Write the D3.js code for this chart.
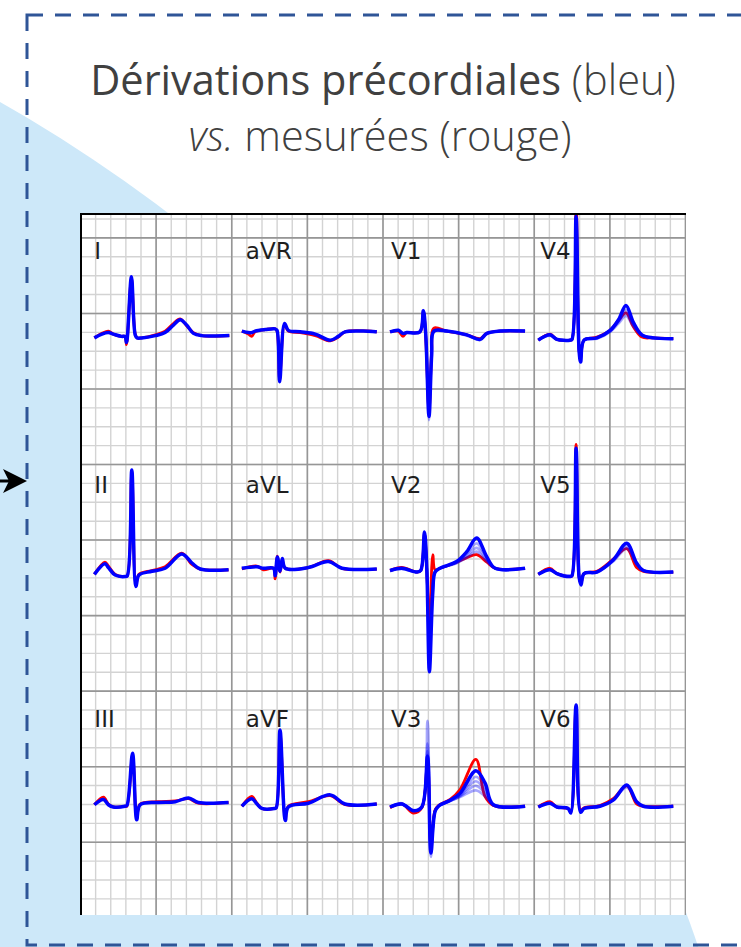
<!DOCTYPE html>
<html>
<head>
<meta charset="utf-8">
<script src="https://cdn.jsdelivr.net/npm/d3@7"></script>
<style>
  body { margin: 0; background: #fff; }
  svg { display: block; }
</style>
</head>
<body>
<script>
// lead layout: rows of the grid and columns
const leadNames = [["I", "aVR", "V1", "V4"], ["II", "aVL", "V2", "V5"], ["III", "aVF", "V3", "V6"]];
const colStart = [38, 428, 820, 1212];     // ms, start of each trace
const rowBase = [-0.3, -3.4, -6.5];        // mV, baseline offset of each row

// time knots (ms from trace start), measured (red) and reconstructed (blue) values in mV
const t_I = [0, 20, 37, 50, 72, 81, 85, 98, 108, 113, 125, 161, 187, 209, 227, 244, 262, 284, 357];
const red_I = [-0.03, 0.03, 0.06, 0.02, -0.01, -0.01, -0.12, 0.76, 0.02, -0.03, -0.03, 0.01, 0.06, 0.16, 0.22, 0.13, 0.04, 0, 0];
const blue_I = [[-0.03, 0.02, 0.04, 0.02, -0.01, -0.01, -0.09, 0.78, 0.01, -0.03, -0.03, 0, 0.04, 0.14, 0.21, 0.14, 0.03, 0, 0]];

const t_aVR = [0, 17, 26, 35, 62, 88, 93, 100, 113, 123, 154, 194, 234, 255, 273, 357];
const red_aVR = [0.06, 0.02, -0.01, 0.05, 0.08, 0.09, 0.06, -0.58, 0.15, 0.06, 0.04, 0.0, -0.07, -0.02, 0.05, 0.05];
const blue_aVR = [[0.06, 0.04, 0.04, 0.06, 0.08, 0.09, 0.07, -0.61, 0.16, 0.07, 0.05, 0.02, -0.06, -0.01, 0.05, 0.05]];

const t_V1 = [0, 22, 34, 44, 79, 88, 94, 103, 110, 116, 150, 203, 238, 256, 291, 357];
const red_V1 = [0.05, 0.06, -0.01, 0.04, 0.05, 0.32, 0.0, -1.0, -0.2, 0.10, 0.06, 0.01, -0.04, 0.03, 0.06, 0.06];
const blue_V1 = [
  [0.05, 0.07, 0.03, 0.04, 0.05, 0.33, 0.05, -1.07, -0.26, 0.06, 0.06, 0.01, -0.05, 0.03, 0.06, 0.06],
  [0.05, 0.06, 0.03, 0.04, 0.05, 0.31, 0.04, -0.95, -0.22, 0.05, 0.06, 0.01, -0.06, 0.02, 0.06, 0.06],
  [0.05, 0.07, 0.03, 0.04, 0.05, 0.34, 0.05, -1.12, -0.28, 0.06, 0.06, 0.0, -0.05, 0.03, 0.06, 0.06]
];

const t_V4 = [0, 31, 49, 84, 89, 100, 108, 112, 121, 155, 190, 212, 232, 251, 274, 304, 357];
const red_V4 = [-0.06, 0.02, -0.05, -0.06, -0.05, 1.8, -0.2, -0.3, -0.06, -0.02, 0.07, 0.2, 0.30, 0.12, -0.02, -0.03, -0.04];
const blue_V4 = [
  [-0.06, 0.01, -0.05, -0.06, -0.05, 1.58, -0.21, -0.35, -0.06, -0.03, 0.07, 0.21, 0.40, 0.18, 0.01, -0.03, -0.04],
  [-0.06, 0.01, -0.05, -0.06, -0.05, 1.55, -0.2, -0.33, -0.06, -0.03, 0.06, 0.19, 0.34, 0.16, 0.01, -0.03, -0.04],
  [-0.05, 0.01, -0.04, -0.06, -0.05, 1.52, -0.2, -0.32, -0.05, -0.03, 0.06, 0.18, 0.30, 0.14, 0.01, -0.03, -0.04],
  [-0.06, 0.0, -0.05, -0.06, -0.05, 1.50, -0.22, -0.34, -0.06, -0.04, 0.05, 0.16, 0.26, 0.12, 0.0, -0.03, -0.04]
];

const t_II = [0, 28, 37, 55, 81, 87, 99, 110, 118, 152, 187, 231, 258, 280, 355];
const red_II = [-0.06, 0.10, 0.05, -0.06, -0.09, -0.08, 1.30, -0.20, -0.06, -0.01, 0.04, 0.22, 0.07, 0.01, 0];
const blue_II = [[-0.06, 0.08, 0.03, -0.07, -0.09, -0.08, 1.32, -0.22, -0.07, -0.02, 0.02, 0.21, 0.09, 0.01, 0]];

const t_aVL = [0, 40, 57, 84, 88, 94, 101, 107, 115, 176, 229, 265, 357];
const red_aVL = [0.01, 0.05, 0.0, 0.02, -0.12, 0.18, -0.03, 0.12, 0.02, 0.03, 0.12, 0.02, 0.01];
const blue_aVL = [[0.02, 0.04, 0.02, 0.02, -0.08, 0.17, -0.02, 0.15, 0.02, 0.03, 0.11, 0.02, 0.01]];

const t_V2 = [0, 31, 71, 81, 91, 97, 104, 113, 119, 132, 176, 203, 229, 256, 278, 357];
const red_V2 = [-0.01, 0.03, -0.03, -0.01, 0.48, 0.0, -0.75, 0.20, 0.0, 0.02, 0.10, 0.16, 0.20, 0.10, 0.02, 0.02];
const blue_V2 = [
  [-0.01, 0.02, -0.03, -0.01, 0.50, 0.04, -1.35, -0.3, -0.03, 0.02, 0.11, 0.24, 0.42, 0.17, 0.02, 0.02],
  [-0.01, 0.02, -0.03, -0.01, 0.48, 0.03, -1.2, -0.25, -0.03, 0.02, 0.10, 0.21, 0.35, 0.15, 0.02, 0.02],
  [-0.02, 0.02, -0.03, -0.01, 0.46, 0.03, -1.05, -0.22, -0.03, 0.02, 0.09, 0.18, 0.29, 0.13, 0.02, 0.02],
  [-0.01, 0.01, -0.03, -0.01, 0.45, 0.02, -0.95, -0.2, -0.02, 0.02, 0.09, 0.16, 0.24, 0.11, 0.02, 0.02]
];

const t_V5 = [0, 31, 49, 84, 89, 100, 108, 113, 121, 155, 198, 234, 260, 278, 357];
const red_V5 = [-0.06, 0.02, -0.05, -0.09, -0.08, 1.66, -0.1, -0.18, -0.05, -0.02, 0.14, 0.28, 0.03, -0.02, -0.03];
const blue_V5 = [
  [-0.06, 0.0, -0.05, -0.09, -0.08, 1.61, -0.1, -0.20, -0.05, -0.03, 0.13, 0.35, 0.09, -0.01, -0.03],
  [-0.06, 0.0, -0.05, -0.09, -0.08, 1.58, -0.1, -0.19, -0.05, -0.03, 0.12, 0.31, 0.08, -0.01, -0.03],
  [-0.05, 0.0, -0.05, -0.08, -0.08, 1.55, -0.1, -0.19, -0.05, -0.03, 0.11, 0.28, 0.07, -0.01, -0.03]
];

const t_III = [0, 24, 37, 50, 81, 86, 101, 112, 121, 169, 214, 249, 275, 355];
const red_III = [-0.01, 0.09, 0.0, -0.04, -0.03, -0.03, 0.64, -0.19, 0.0, 0.03, 0.04, 0.07, 0.01, 0.02];
const blue_III = [[-0.01, 0.06, -0.01, -0.04, -0.03, -0.02, 0.67, -0.21, -0.01, 0.02, 0.03, 0.08, 0.02, 0.02]];

const t_aVF = [0, 26, 40, 53, 86, 91, 101, 115, 123, 176, 234, 273, 357];
const red_aVF = [-0.03, 0.10, 0.01, -0.06, -0.06, -0.05, 0.95, -0.20, -0.03, 0.03, 0.11, -0.01, 0.0];
const blue_aVF = [[-0.03, 0.07, 0.0, -0.06, -0.06, -0.05, 0.98, -0.22, -0.04, 0.01, 0.12, 0.0, 0.0]];

const t_V3 = [0, 31, 62, 84, 99, 108, 119, 128, 159, 185, 227, 251, 273, 357];
const red_V3 = [-0.05, 0.0, -0.12, -0.05, 0.55, -0.55, -0.08, -0.02, 0.06, 0.19, 0.59, 0.10, -0.02, -0.03];
const blue_V3 = [
  [-0.04, 0.0, -0.09, -0.04, 0.63, -0.65, -0.10, -0.03, 0.05, 0.14, 0.44, 0.28, -0.01, -0.03],
  [-0.04, 0.0, -0.09, -0.04, 1.10, -0.70, -0.10, -0.03, 0.05, 0.12, 0.36, 0.22, -0.01, -0.03],
  [-0.04, 0.0, -0.08, -0.04, 0.80, -0.62, -0.10, -0.03, 0.04, 0.11, 0.30, 0.18, -0.01, -0.03],
  [-0.04, 0.01, -0.09, -0.04, 0.70, -0.60, -0.09, -0.03, 0.04, 0.10, 0.24, 0.14, -0.01, -0.03],
  [-0.04, 0.0, -0.09, -0.04, 0.65, -0.58, -0.09, -0.03, 0.04, 0.09, 0.18, 0.10, -0.01, -0.03]
];

const t_V6 = [0, 31, 49, 79, 86, 100, 112, 121, 163, 198, 234, 260, 278, 357];
const red_V6 = [-0.04, 0.03, -0.04, -0.06, -0.10, 1.30, -0.08, -0.05, -0.02, 0.07, 0.24, 0.0, -0.03, -0.03];
const blue_V6 = [
  [-0.04, 0.01, -0.04, -0.06, -0.12, 1.31, -0.11, -0.06, -0.03, 0.05, 0.25, 0.03, -0.03, -0.03],
  [-0.04, 0.01, -0.04, -0.06, -0.12, 1.28, -0.11, -0.06, -0.03, 0.05, 0.22, 0.03, -0.03, -0.03]
];

// grid ticks
const xMinor = d3.range(0, 1601, 40);
const xMajor = d3.range(0, 1601, 200);
const yMinor = d3.range(-32, 6).map(k => k / 4);
const yMajor = d3.range(-8, 2);

// table built from the arrays above
const leadData = {
  I: [t_I, red_I, blue_I], aVR: [t_aVR, red_aVR, blue_aVR], V1: [t_V1, red_V1, blue_V1], V4: [t_V4, red_V4, blue_V4],
  II: [t_II, red_II, blue_II], aVL: [t_aVL, red_aVL, blue_aVL], V2: [t_V2, red_V2, blue_V2], V5: [t_V5, red_V5, blue_V5],
  III: [t_III, red_III, blue_III], aVF: [t_aVF, red_aVF, blue_aVF], V3: [t_V3, red_V3, blue_V3], V6: [t_V6, red_V6, blue_V6]
};

const W = 741, H = 947;
const panel = {left: 80, top: 214, right: 686, bottom: 915};
const labelDx = [0, 4, 1, 2];   // px nudge of the lead names per column

const svg = d3.select("body").append("svg")
    .attr("width", W)
    .attr("height", H);

// background decoration
svg.append("circle")
    .attr("cx", -766).attr("cy", 1446).attr("r", 1547)
    .attr("fill", "#cde8f9");

svg.append("rect")
    .attr("x", 27).attr("y", 15)
    .attr("width", 800).attr("height", 930)
    .attr("fill", "none")
    .attr("stroke", "#2f5597")
    .attr("stroke-width", 3)
    .attr("stroke-dasharray", "16,12");

// arrow on the left
svg.append("line")
    .attr("x1", -5).attr("x2", 12).attr("y1", 481).attr("y2", 481)
    .attr("stroke", "#000").attr("stroke-width", 3);
svg.append("path")
    .attr("d", "M27,481 L3,469 L9,481 L3,493 Z")
    .attr("fill", "#000");

// title
const title = svg.append("text")
    .attr("x", 383).attr("y", 95)
    .attr("text-anchor", "middle")
    .attr("font-family", "'Open Sans', Lato, sans-serif")
    .attr("font-size", 41.5)
    .attr("fill", "#404040");
title.append("tspan").attr("font-weight", 400).text("Dérivations précordiales");
title.append("tspan").attr("font-weight", 300).text(" (bleu)");

const title2 = svg.append("text")
    .attr("x", 380).attr("y", 151)
    .attr("text-anchor", "middle")
    .attr("font-family", "'Open Sans', Lato, sans-serif")
    .attr("font-size", 41.5)
    .attr("font-weight", 300)
    .attr("fill", "#404040");
title2.append("tspan").attr("font-style", "italic").text("vs.");
title2.append("tspan").text(" mesurées (rouge)");

// scales
const x = d3.scaleLinear().domain([0, 1600]).range([80, 685]);
const y = d3.scaleLinear().domain([-7.97, 1.31]).range([panel.bottom, panel.top]);

// panel
svg.append("rect")
    .attr("x", panel.left).attr("y", panel.top)
    .attr("width", panel.right - panel.left).attr("height", panel.bottom - panel.top)
    .attr("fill", "#fff");

svg.append("clipPath").attr("id", "clip")
  .append("rect")
    .attr("x", panel.left).attr("y", panel.top)
    .attr("width", panel.right - panel.left).attr("height", panel.bottom - panel.top);

const plot = svg.append("g").attr("clip-path", "url(#clip)");

function grid(vals, color, width) {
    plot.append("g")
        .attr("transform", `translate(0,${panel.bottom})`)
        .call(d3.axisBottom(x).tickValues(vals).tickSize(-(panel.bottom - panel.top)).tickFormat(""))
        .call(g => g.select(".domain").remove())
        .selectAll("line").attr("stroke", color).attr("stroke-width", width);
}
function gridY(vals, color, width) {
    plot.append("g")
        .attr("transform", `translate(${panel.left},0)`)
        .call(d3.axisLeft(y).tickValues(vals).tickSize(-(panel.right - panel.left)).tickFormat(""))
        .call(g => g.select(".domain").remove())
        .selectAll("line").attr("stroke", color).attr("stroke-width", width);
}
grid(xMinor, "#d3d3d3", 1.4);
gridY(yMinor, "#d3d3d3", 1.4);
grid(xMajor, "#969696", 1.6);
gridY(yMajor, "#969696", 1.6);

// lead labels
leadNames.forEach((row, r) => row.forEach((name, c) => {
    plot.append("text")
        .attr("x", x(colStart[c]) + labelDx[c])
        .attr("y", y(rowBase[r] + 1.02))
        .attr("font-family", "'DejaVu Sans', sans-serif")
        .attr("font-size", 23)
        .attr("fill", "#1e1e1e")
        .text(name);
}));

// traces
leadNames.forEach((row, r) => row.forEach((name, c) => {
    const [t, red, blues] = leadData[name];
    const line = d3.line()
        .x((d, i) => x(colStart[c] + t[i]))
        .y(d => y(rowBase[r] + d))
        .curve(d3.curveCatmullRom.alpha(0.5));

    plot.append("path")
        .attr("d", line(red))
        .attr("fill", "none")
        .attr("stroke", "#ff0000")
        .attr("stroke-width", 2.8)
        .attr("stroke-linejoin", "round");

    // faint ensemble first, main reconstruction on top
    blues.slice(1).forEach(b => {
        plot.append("path")
            .attr("d", line(b))
            .attr("fill", "none")
            .attr("stroke", "#0000ff")
            .attr("stroke-opacity", 0.35)
            .attr("stroke-width", 2.6)
            .attr("stroke-linejoin", "round");
    });
    plot.append("path")
        .attr("d", line(blues[0]))
        .attr("fill", "none")
        .attr("stroke", "#0000ff")
        .attr("stroke-width", 3.5)
        .attr("stroke-linejoin", "round");
}));

// frame: top and left edges
svg.append("line")
    .attr("x1", panel.left).attr("x2", panel.right)
    .attr("y1", panel.top).attr("y2", panel.top)
    .attr("stroke", "#000").attr("stroke-width", 2);
svg.append("line")
    .attr("x1", panel.left + 1).attr("x2", panel.left + 1)
    .attr("y1", panel.top).attr("y2", panel.bottom)
    .attr("stroke", "#000").attr("stroke-width", 2);
</script>
</body>
</html>
